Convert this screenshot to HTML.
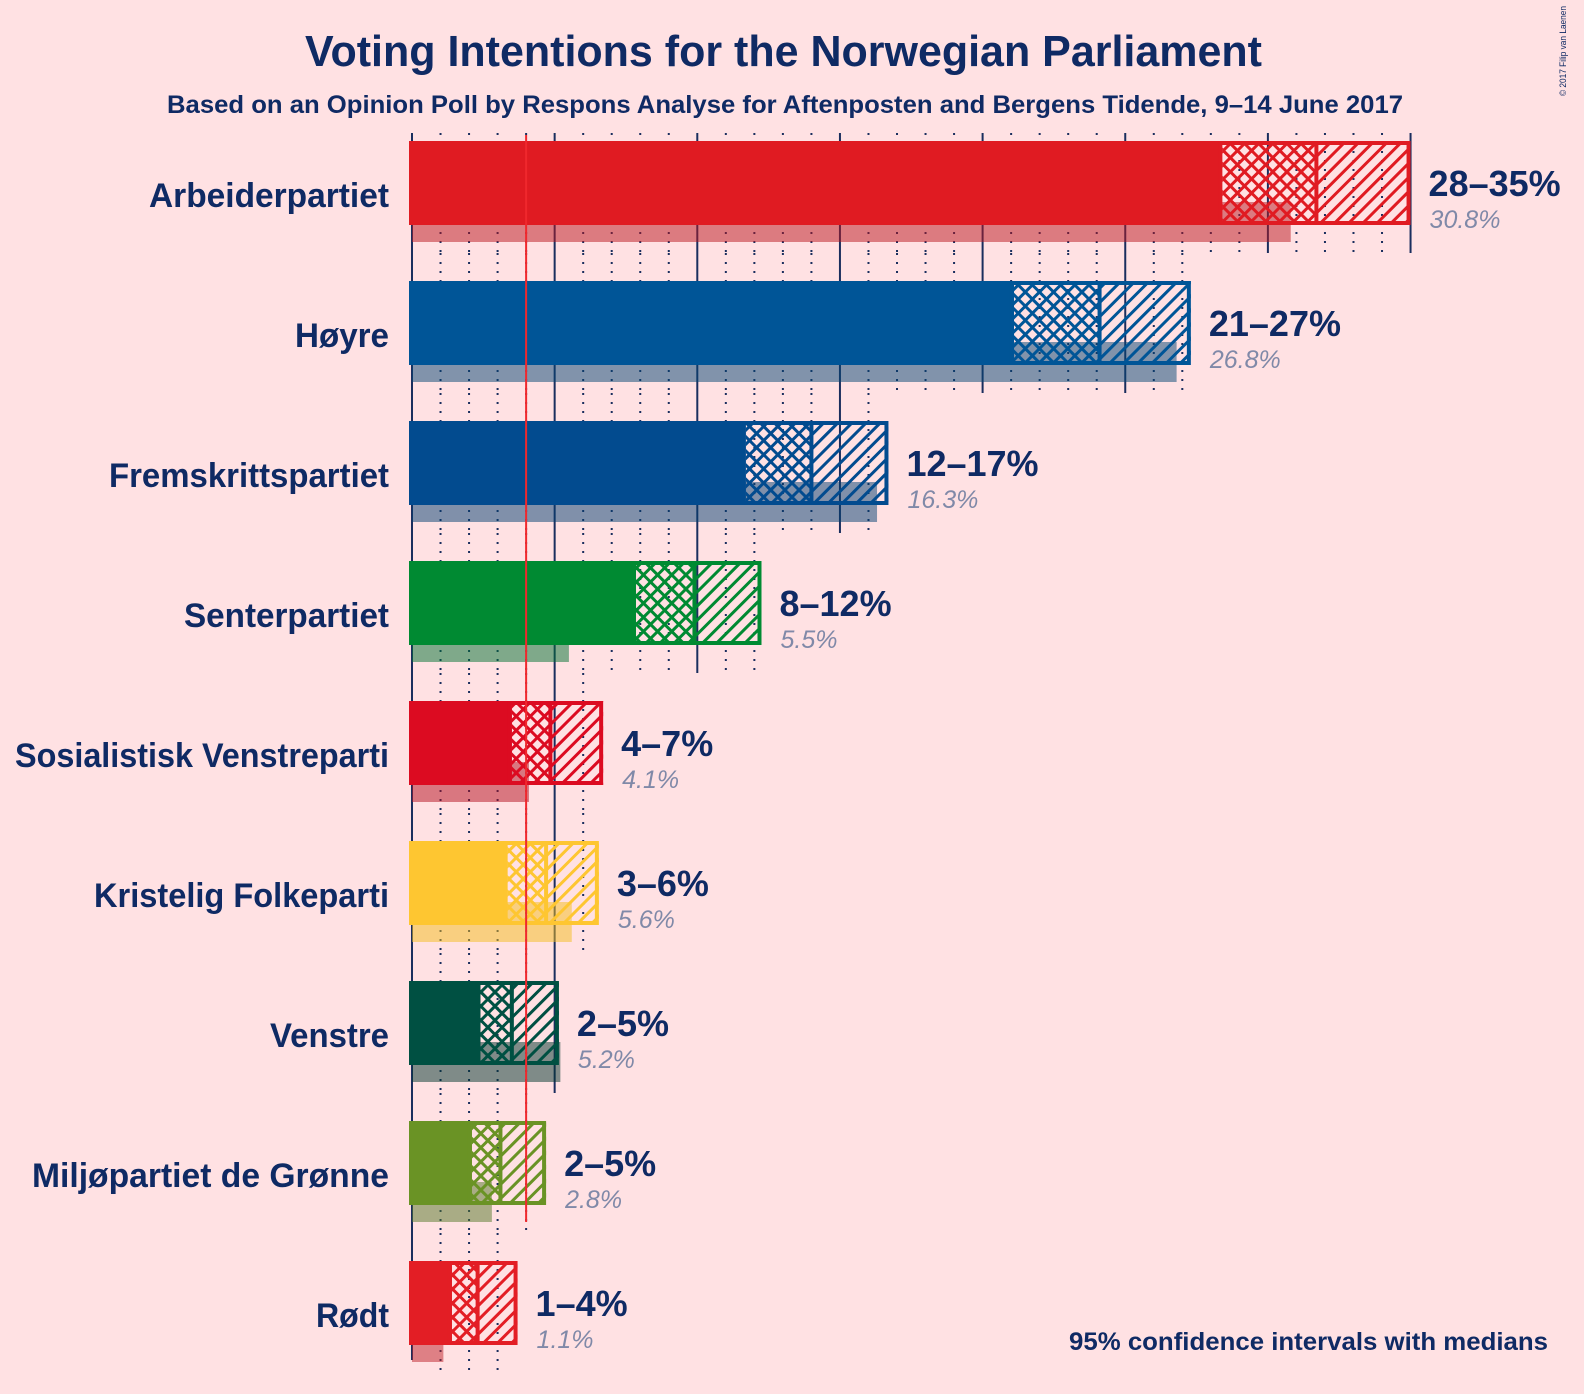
<!DOCTYPE html>
<html><head><meta charset="utf-8"><style>
html,body{margin:0;padding:0;background:#ffe1e3;}
svg{display:block;font-family:"Liberation Sans",sans-serif;}
</style></head><body>
<svg id="chart" width="1584" height="1394" viewBox="0 0 1584 1394" xmlns="http://www.w3.org/2000/svg">
<rect width="1584" height="1394" fill="#ffe1e3"/>
<defs id="defs"></defs>
<text x="305" y="66" font-size="44" font-weight="bold" fill="#0f2a64" textLength="957" lengthAdjust="spacingAndGlyphs">Voting Intentions for the Norwegian Parliament</text>
<text x="167" y="113" font-size="25" font-weight="bold" fill="#0f2a64" textLength="1236" lengthAdjust="spacingAndGlyphs">Based on an Opinion Poll by Respons Analyse for Aftenposten and Bergens Tidende, 9–14 June 2017</text>
<text x="1566" y="96" font-size="9" fill="#0f2a64" transform="rotate(-90 1566 96)" textLength="90" lengthAdjust="spacingAndGlyphs">© 2017 Filip van Laenen</text>
<text x="1069" y="1350" font-size="25" font-weight="bold" fill="#0f2a64" textLength="479" lengthAdjust="spacingAndGlyphs">95% confidence intervals with medians</text>
<g id="grid"></g><g id="bars"></g><g id="labels"></g>
</svg>
<script>
const parties = ["Arbeiderpartiet","Høyre","Fremskrittspartiet","Senterpartiet","Sosialistisk Venstreparti","Kristelig Folkeparti","Venstre","Miljøpartiet de Grønne","Rødt"];
const lowerVals = [28.4,21.1,11.7,7.85,3.5,3.35,2.4,2.1,1.4];
const medianVals = [31.7,24.1,14.0,9.9,4.85,4.7,3.5,3.1,2.3];
const upperVals = [35.0,27.3,16.7,12.25,6.7,6.55,5.15,4.7,3.7];
const lastVals = [30.8,26.8,16.3,5.5,4.1,5.6,5.2,2.8,1.1];
const rangeLabels = ["28–35%","21–27%","12–17%","8–12%","4–7%","3–6%","2–5%","2–5%","1–4%"];
const lastLabels = ["30.8%","26.8%","16.3%","5.5%","4.1%","5.6%","5.2%","2.8%","1.1%"];
const threshold = 4;

const colors = ["#e01b22","#005597","#024b8f","#008a32","#dc0b21","#fec631","#005042","#6a9325","#e31e25"];
const lastColors = ["rgb(185,21,29)","rgb(3,69,115)","rgb(1,63,113)","rgb(0,113,49)","rgb(179,13,29)","rgb(243,189,29)","rgb(0,53,45)","rgb(83,119,39)","rgb(189,31,39)"];
const nameWidths = [240,94,280,205,374,295,119,357,73];

const NS="http://www.w3.org/2000/svg";
const X0=412, SC=28.53;
function x(v){return X0+v*SC;}
function rowTop(i){return 141+i*140;}
function mk(tag,attrs,parent){const e=document.createElementNS(NS,tag);for(const k in attrs)e.setAttribute(k,attrs[k]);parent.appendChild(e);return e;}
const defs=document.getElementById('defs'),grid=document.getElementById('grid'),bars=document.getElementById('bars'),labels=document.getElementById('labels');

colors.forEach((c,i)=>{
  const p1=mk('pattern',{id:'diag'+i,patternUnits:'userSpaceOnUse',width:10,height:10,patternTransform:'rotate(45)'},defs);
  mk('rect',{x:0,y:0,width:3,height:10,fill:c},p1);
  const p2=mk('pattern',{id:'cross'+i,patternUnits:'userSpaceOnUse',width:10,height:10,patternTransform:'rotate(45)'},defs);
  mk('rect',{x:0,y:0,width:3,height:10,fill:c},p2);
  mk('rect',{x:0,y:0,width:10,height:3,fill:c},p2);
});

parties.forEach((name,i)=>{
  const t=rowTop(i);
  const maxG=Math.floor(Math.max(upperVals[i],lastVals[i])+0.001);
  const y1= i===0 ? t-8 : t-28, y2=t+112;
  for(let g=1; g<=maxG; g++){
    const solid = g%5===0;
    const l=mk('line',{x1:x(g),x2:x(g),y1:y1,y2:y2,stroke:'#1a2e5e','stroke-width':2,'stroke-dasharray':solid?'none':'2,7'},grid);
    
    
  }
  const g=mk('g',{},bars);
  
  
  const lb=mk('rect',{x:X0,y:t+61,width:x(lastVals[i])-X0,height:40,fill:lastColors[i],opacity:0.5},g);
  
  
  const s=mk('rect',{x:409,y:t,width:x(lowerVals[i])-409,height:84,fill:colors[i]},g);
  
  
  const cr=mk('rect',{x:x(lowerVals[i]),y:t,width:x(medianVals[i])-x(lowerVals[i]),height:84,fill:'url(#cross'+i+')'},g);
  
  
  const dg=mk('rect',{x:x(medianVals[i]),y:t,width:x(upperVals[i])-x(medianVals[i]),height:84,fill:'url(#diag'+i+')'},g);
  
  
  const md=mk('line',{x1:x(medianVals[i]),x2:x(medianVals[i]),y1:t,y2:t+84,stroke:colors[i],'stroke-width':4},g);
  
  
  const bd=mk('rect',{x:x(lowerVals[i])-2,y:t+2,width:x(upperVals[i])-x(lowerVals[i]),height:80,fill:'none',stroke:colors[i],'stroke-width':4},g);
  
  

  const nt=mk('text',{x:389-nameWidths[i],y:t+66,'font-size':34,'font-weight':'bold',fill:'#0f2a64',textLength:nameWidths[i],lengthAdjust:'spacingAndGlyphs'},labels);
  nt.textContent=name;
  
  
  const rl=mk('text',{x:x(upperVals[i])+18,y:t+55,'font-size':36,'font-weight':'bold',fill:'#0f2a64'},labels);
  rl.textContent=rangeLabels[i];
  
  
  const ll=mk('text',{x:x(upperVals[i])+19,y:t+87,'font-size':25,'font-style':'italic',fill:'#8089a8'},labels);
  ll.textContent=lastLabels[i];
  
  
});
const ax=mk('line',{x1:X0,x2:X0,y1:133,y2:1360,stroke:'#1a2e5e','stroke-width':2},grid);


const th=mk('line',{x1:x(threshold),x2:x(threshold),y1:135,y2:1222,stroke:'#f0282d','stroke-width':2},labels);


</script>
</body></html>
